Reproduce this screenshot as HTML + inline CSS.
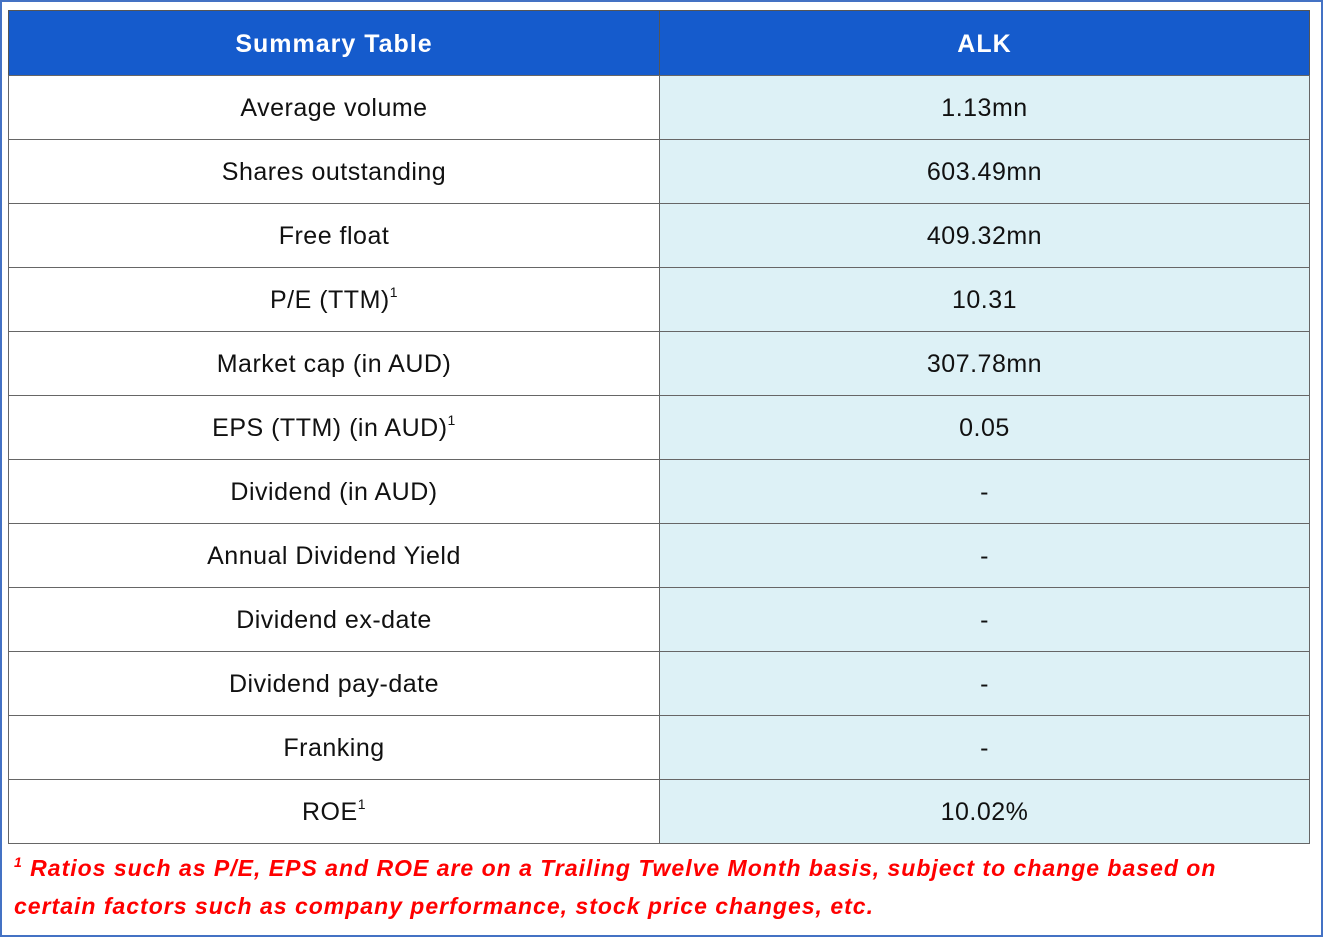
<!DOCTYPE html>
<html><head><style>
body{margin:0;width:1323px;height:937px;background:#fff;position:relative;overflow:hidden;font-family:"Liberation Sans",sans-serif;}
.frame{position:absolute;left:0;top:0;width:1319px;height:933px;border:2px solid #4472c4;}
.c{position:absolute;box-sizing:border-box;text-align:center;font-size:25px;letter-spacing:0.5px;color:#111;border:1.5px solid #666;height:65px;line-height:64px;}
.h{background:#155bcc;color:#fff;font-weight:bold;letter-spacing:1px;border-color:#555;height:66px;line-height:66px;top:10px;}
.l{left:8px;width:652px;}
.r{left:659px;width:651px;}
.v{background:#ddf1f6;}
sup{font-size:14px;vertical-align:baseline;position:relative;top:-11px;line-height:0;}
.note{position:absolute;left:14px;top:849px;color:#f00;font-weight:bold;font-style:italic;font-size:23px;letter-spacing:1px;line-height:38px;white-space:nowrap;}
.note sup{font-size:14px;top:-9px;}
</style></head><body>
<div class="frame"></div>
<div class="c h l">Summary Table</div><div class="c h r">ALK</div>
<div class="c l" style="top:75px">Average volume</div><div class="c r v" style="top:75px">1.13mn</div>
<div class="c l" style="top:139px">Shares outstanding</div><div class="c r v" style="top:139px">603.49mn</div>
<div class="c l" style="top:203px">Free float</div><div class="c r v" style="top:203px">409.32mn</div>
<div class="c l" style="top:267px">P/E (TTM)<sup>1</sup></div><div class="c r v" style="top:267px">10.31</div>
<div class="c l" style="top:331px">Market cap (in AUD)</div><div class="c r v" style="top:331px">307.78mn</div>
<div class="c l" style="top:395px">EPS (TTM) (in AUD)<sup>1</sup></div><div class="c r v" style="top:395px">0.05</div>
<div class="c l" style="top:459px">Dividend (in AUD)</div><div class="c r v" style="top:459px">-</div>
<div class="c l" style="top:523px">Annual Dividend Yield</div><div class="c r v" style="top:523px">-</div>
<div class="c l" style="top:587px">Dividend ex-date</div><div class="c r v" style="top:587px">-</div>
<div class="c l" style="top:651px">Dividend pay-date</div><div class="c r v" style="top:651px">-</div>
<div class="c l" style="top:715px">Franking</div><div class="c r v" style="top:715px">-</div>
<div class="c l" style="top:779px">ROE<sup>1</sup></div><div class="c r v" style="top:779px">10.02%</div>
<div class="note"><sup>1</sup> Ratios such as P/E, EPS and ROE are on a Trailing Twelve Month basis, subject to change based on<br>certain factors such as company performance, stock price changes, etc.</div>
</body></html>
